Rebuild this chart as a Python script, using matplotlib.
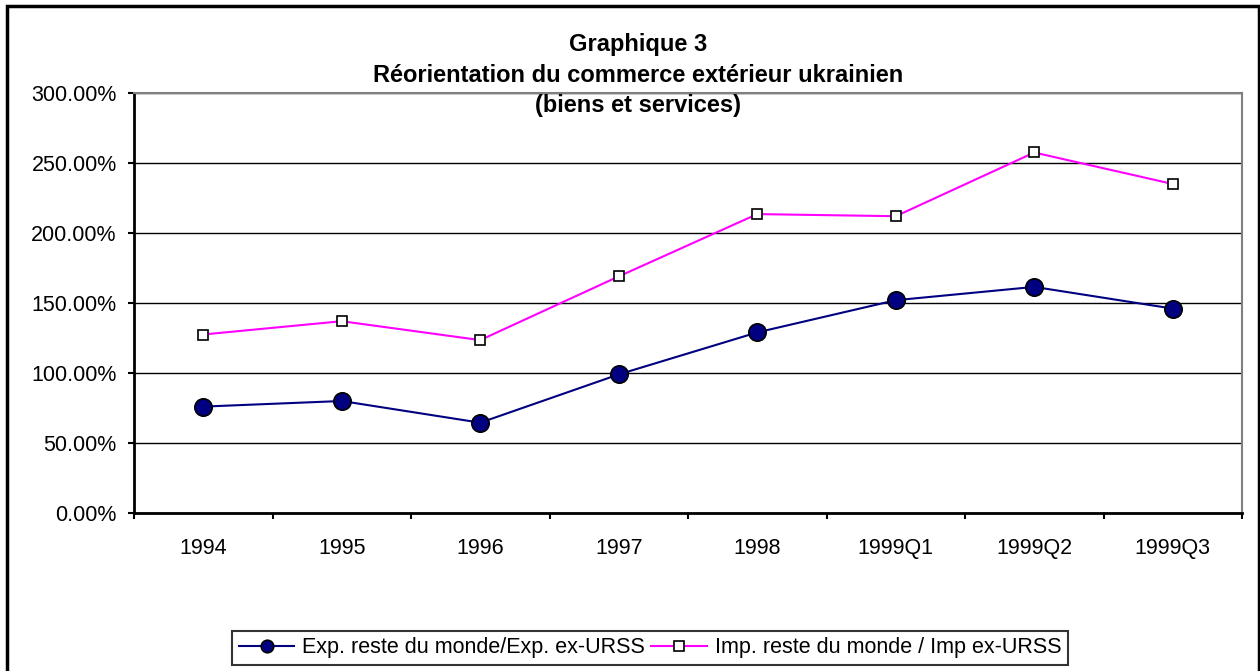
import matplotlib.pyplot as plt
from matplotlib.patches import Rectangle
from matplotlib.ticker import FuncFormatter, FixedLocator

plt.rcParams['font.family'] = ['Liberation Sans', 'DejaVu Sans']

periods = ['1994', '1995', '1996', '1997', '1998', '1999Q1', '1999Q2', '1999Q3']
exp_ratio = [76, 80, 64.5, 99, 129, 152, 161.5, 146]
imp_ratio = [127.5, 137, 123.5, 169, 213.5, 212, 257.5, 235]

fig = plt.figure(figsize=(12.6, 6.71), dpi=100)
ax = fig.add_axes([134/1260, 1 - 513/671, (1242-134)/1260, (513-93)/671])

x = list(range(len(periods)))
ax.plot(x, exp_ratio, color='#000080', lw=1.5, marker='o', ms=12.5,
        mfc='#000080', mec='black', mew=1.2,
        label='Exp. reste du monde/Exp. ex-URSS', zorder=3)
ax.plot(x, imp_ratio, color='#ff00ff', lw=1.5, marker='s', ms=7,
        mfc='white', mec='black', mew=1.2,
        label='Imp. reste du monde / Imp ex-URSS', zorder=3)

ax.set_xlim(-0.5, len(periods) - 0.5)
ax.set_ylim(0, 300)
ax.set_yticks(range(0, 301, 50))
ax.yaxis.set_major_formatter(FuncFormatter(lambda v, p: f'{v:.2f}%'))
ax.grid(axis='y', color='black', lw=1)
ax.set_axisbelow(True)

ax.set_xticks(x)
ax.set_xticklabels(periods)
ax.tick_params(axis='x', which='major', length=0, pad=18, labelsize=15.5)
ax.xaxis.set_minor_locator(FixedLocator([i + 0.5 for i in range(-1, len(periods))]))
ax.tick_params(axis='x', which='minor', length=4.5, width=1.5, direction='out')
ax.tick_params(axis='y', length=4.5, width=1.5, direction='out', labelsize=15.5, pad=8)

for s in ['left', 'bottom']:
    ax.spines[s].set_linewidth(2)
    ax.spines[s].set_color('black')
for s in ['top', 'right']:
    ax.spines[s].set_linewidth(1.5)
    ax.spines[s].set_color('#808080')

fig.text(638/1260, 1 - 75/671, 'Graphique 3\nRéorientation du commerce extérieur ukrainien\n(biens et services)',
         ha='center', va='center', fontsize=17, fontweight='bold', linespacing=1.4)

leg = fig.legend(loc='center', bbox_to_anchor=(650/1260, 1 - 648/671), ncol=2,
                 fontsize=15.5, frameon=True, fancybox=False, edgecolor='black',
                 handlelength=2.6, columnspacing=0.3, handletextpad=0.35,
                 borderpad=0.3, borderaxespad=0)
leg.get_frame().set_linewidth(1.5)
leg.legend_handles[0].set_markersize(9)
leg.legend_handles[1].set_markersize(6.5)

fig.patches.append(Rectangle((7/1260, -0.01), (1259-7)/1260, 1 - 6/671 + 0.01,
                             transform=fig.transFigure, fill=False,
                             edgecolor='black', lw=2.5))

fig.savefig('out.png', dpi=100)
